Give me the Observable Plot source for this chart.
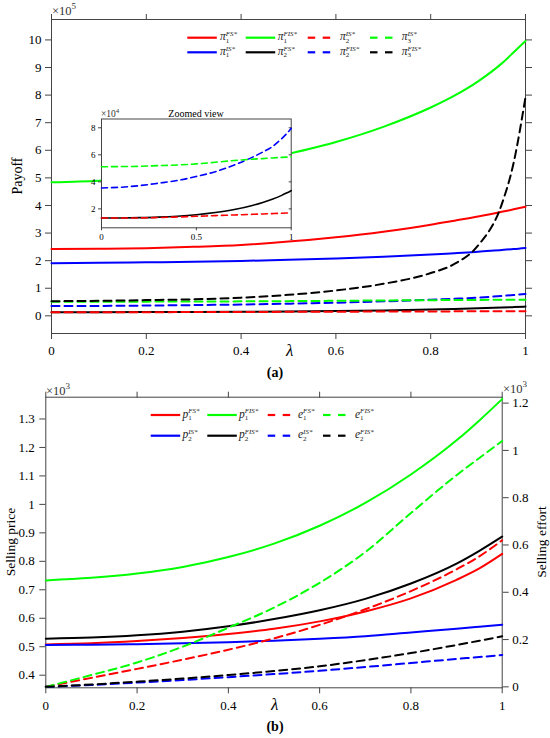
<!DOCTYPE html>
<html><head><meta charset="utf-8">
<script src="https://cdn.jsdelivr.net/npm/d3@7"></script>
<script src="https://cdn.jsdelivr.net/npm/@observablehq/plot@0.6"></script>
<style>
body{margin:0;background:#fff}
#wrap{position:relative;width:550px;height:738px;overflow:hidden;background:#fff}
#wrap svg{position:absolute;overflow:visible}
#wrap svg, #wrap svg text, #wrap svg g{font-family:"Liberation Serif","Times New Roman",Times,serif !important}
</style></head><body><div id="wrap"></div>
<script>
// ---------- data: panel (a) payoff ----------
const lamA = [0,0.1,0.2,0.3,0.4,0.5,0.6,0.7,0.8,0.85,0.9,0.95,0.975,1];
const pi1FS  = [242000,243000,245000,250000,257000,269000,285000,305000,330000,345000,360000,377000,386000,395000];
const pi1IS  = [191000,192000,194000,196000,199000,203000,208000,214000,222000,227000,232000,239000,242000,246000];
const pi1FIS = [484000,490000,502000,520000,550000,587000,630000,685000,755000,798000,850000,915000,955000,996000];
const pi2FS  = [13200,13300,13500,13900,14600,15700,17300,19500,22700,24800,27200,30000,31700,33500];
const pi2IS  = [13200,13200,13300,13600,14000,14500,15000,15500,16000,16200,16500,16800,16900,17000];
const pi2FIS = [35500,36000,37200,39000,41000,44000,47500,52500,58500,62000,66000,72000,75500,79500];
const pi3IS  = [51200,51300,51500,52000,52500,53300,54500,55800,56800,57200,57700,58100,58300,58500];
const pi3FIS = [53000,54500,57000,60000,66000,76000,92000,116000,155000,188000,255000,405000,555000,793000];
const xTicksA = [0,0.2,0.4,0.6,0.8,1];
const yTicksA = [0,100000,200000,300000,400000,500000,600000,700000,800000,900000,1000000];
const xTicksInset = [0,0.5,1];
const yTicksInset = [20000,40000,60000,80000];

// ---------- data: panel (b) price / effort ----------
const lamB = [0,0.1,0.2,0.3,0.4,0.5,0.6,0.7,0.8,0.9,0.95,1];
const p1FS  = [508,512,520,531,545,563,589,624,670,735,775,826];
const p2IS  = [506,507,509,512,516,521,528,537,550,563,570,577];
const p1FIS = [733,742,757,780,815,862,925,1005,1105,1225,1295,1370];
const p2FIS = [528,532,540,553,572,597,628,668,722,792,837,887];
const e1FS  = [0,38,76,115,157,205,262,328,405,497,552,620];
const e2IS  = [0,8,18,29,41,54,68,84,101,118,126,135];
const e1FIS = [0,50,103,170,250,335,440,570,735,895,968,1040];
const e2FIS = [0,10,22,35,50,67,87,113,143,177,195,214];
const xTicksB = [0,0.2,0.4,0.6,0.8,1];
const yTicksPrice = [400,500,600,700,800,900,1000,1100,1200,1300];
const yTicksEffort = [0,200,400,600,800,1000,1200];

const FONT = '"Liberation Serif","Times New Roman",Times,serif';
const AX = "#444";
const RED="#ff0000", GREEN="#00ff00", BLUE="#0000ff", BLACK="#000000";
const DASH = "8,5";

const rows = (lam, vals) => lam.map((l,i)=>({lam:l, v:vals[i]}));
const seriesA = [
  {vals:pi1FS, color:RED, dash:null, inset:false},
  {vals:pi1IS, color:BLUE, dash:null, inset:false},
  {vals:pi1FIS, color:GREEN, dash:null, inset:false},
  {vals:pi2FS, color:BLACK, dash:null, inset:true},
  {vals:pi2IS, color:RED, dash:DASH, inset:true},
  {vals:pi2FIS, color:BLUE, dash:DASH, inset:true},
  {vals:pi3IS, color:GREEN, dash:DASH, inset:true},
  {vals:pi3FIS, color:BLACK, dash:DASH, inset:false}
];
const fmt = d => String(+d.toFixed(2));

const wrap = document.getElementById("wrap");
function place(svg, left, top){ svg.style.left=left+"px"; svg.style.top=top+"px"; wrap.appendChild(svg); return svg; }

// ---------- panel (a) ----------
const plotA = Plot.plot({
  width:550, height:380,
  marginLeft:51, marginRight:25, marginTop:19, marginBottom:47,
  style:{background:"transparent", fontFamily:FONT, fontSize:"13px", color:"#000"},
  x:{domain:[0,1]},
  y:{domain:[-64000,1074000]},
  marks:[
    Plot.frame({stroke:AX}),
    Plot.axisX({ticks:xTicksA, tickFormat:d=>fmt(d), tickSize:6, tickPadding:6, stroke:AX, fill:"#000", label:null}),
    Plot.axisX({anchor:"top", ticks:xTicksA, tickFormat:()=>"", tickSize:6, stroke:AX, label:null}),
    Plot.axisY({ticks:yTicksA, tickFormat:d=>fmt(d/1e5), tickSize:6, tickPadding:4, stroke:AX, fill:"#000", label:null}),
    Plot.axisY({anchor:"right", ticks:yTicksA, tickFormat:()=>"", tickSize:6, stroke:AX, label:null}),
    ...seriesA.map(s=>Plot.line(rows(lamA,s.vals), {x:"lam", y:"v", stroke:s.color, strokeWidth:2, strokeDasharray:s.dash, curve:"monotone-x"}))
  ]
});
place(plotA, 0, 0);

// ---------- inset ----------
const plotI = Plot.plot({
  width:220, height:150,
  marginLeft:21, marginRight:9.3, marginTop:18.5, marginBottom:22.7,
  style:{background:"transparent", fontFamily:FONT, fontSize:"9px", color:"#000"},
  x:{domain:[0,1]},
  y:{domain:[6000,86500]},
  marks:[
    Plot.frame({fill:"white", stroke:AX}),
    Plot.axisX({ticks:xTicksInset, tickFormat:d=>fmt(d), tickSize:3, tickPadding:3, stroke:AX, fill:"#000", label:null}),
    Plot.axisY({ticks:yTicksInset, tickFormat:d=>fmt(d/1e4), tickSize:3, tickPadding:3, stroke:AX, fill:"#000", label:null}),
    Plot.axisY({anchor:"right", ticks:yTicksInset, tickFormat:()=>"", tickSize:-3, stroke:AX, label:null}),
    ...seriesA.filter(s=>s.inset).map(s=>Plot.line(rows(lamA,s.vals), {x:"lam", y:"v", stroke:s.color, strokeWidth:1.6, strokeDasharray:s.dash?"6,4":null, curve:"monotone-x"}))
  ]
});
place(plotI, 80, 100);

// ---------- panel (b) ----------
const L0=355.7, L1=1376.5, R0=-4, R1=1225;
const toL = e => L0 + (e-R0)*(L1-L0)/(R1-R0);
const fromL = v => R0 + (v-L0)*(R1-R0)/(L1-L0);
const seriesB = [
  {vals:p1FS, color:RED, dash:null, eff:false},
  {vals:p2IS, color:BLUE, dash:null, eff:false},
  {vals:p1FIS, color:GREEN, dash:null, eff:false},
  {vals:p2FIS, color:BLACK, dash:null, eff:false},
  {vals:e1FS, color:RED, dash:DASH, eff:true},
  {vals:e2IS, color:BLUE, dash:DASH, eff:true},
  {vals:e1FIS, color:GREEN, dash:DASH, eff:true},
  {vals:e2FIS, color:BLACK, dash:DASH, eff:true}
];
const plotB = Plot.plot({
  width:550, height:358,
  marginLeft:45.3, marginRight:48.3, marginTop:16.7, marginBottom:50.7,
  style:{background:"transparent", fontFamily:FONT, fontSize:"13px", color:"#000"},
  x:{domain:[0,1]},
  y:{domain:[L0,L1]},
  marks:[
    Plot.frame({stroke:AX}),
    Plot.axisX({ticks:xTicksB, tickFormat:d=>fmt(d), tickSize:6, tickPadding:7, stroke:AX, fill:"#000", label:null}),
    Plot.axisX({anchor:"top", ticks:xTicksB, tickFormat:()=>"", tickSize:6, stroke:AX, label:null}),
    Plot.axisY({ticks:yTicksPrice, tickFormat:d=>fmt(d/1e3), tickSize:6, tickPadding:5, stroke:AX, fill:"#000", label:null}),
    Plot.axisY({anchor:"right", ticks:yTicksEffort.map(toL), tickFormat:d=>fmt(Math.round(fromL(d))/1e3), tickSize:6, tickPadding:4, stroke:AX, fill:"#000", label:null}),
    ...seriesB.map(s=>Plot.line(rows(lamB, s.eff ? s.vals.map(toL) : s.vals), {x:"lam", y:"v", stroke:s.color, strokeWidth:2, strokeDasharray:s.dash, curve:"monotone-x"}))
  ]
});
place(plotB, 0, 380);

// ---------- overlay texts & legends ----------
const ov = d3.create("svg").attr("width",550).attr("height",738).attr("viewBox","0 0 550 738")
  .attr("font-family",FONT).style("pointer-events","none");
function txt(x,y,s,size,opts={}){
  const t = ov.append("text").attr("x",x).attr("y",y).attr("font-size",size).attr("font-family",FONT)
    .attr("font-weight","normal").attr("fill",opts.fill||"#000").text(s);
  if(opts.anchor) t.attr("text-anchor",opts.anchor);
  if(opts.italic) t.attr("font-style","italic");
  if(opts.bold) t.attr("font-weight","bold");
  if(opts.rot) t.attr("transform",`rotate(-90 ${x} ${y})`);
  return t;
}
function times10(x,y,exp,size){
  const t = txt(x,y,"×10",size,{fill:"#333"});
  t.append("tspan").attr("dy",-size*0.45).attr("font-size",size*0.72).text(exp);
}
// panel a
times10(52,15,"5",12.5);
txt(286,356,"λ",17,{italic:true});
txt(275,377,"(a)",14,{anchor:"middle",bold:true});
txt(22,176,"Payoff",14,{anchor:"middle",rot:true});
// inset
times10(101,117,"4",9.5);
txt(196,117,"Zoomed view",10,{anchor:"middle"});
// panel b
times10(46,395,"3",12.5);
times10(503,393,"3",12.5);
txt(271,710,"λ",17,{italic:true});
txt(275,731,"(b)",14,{anchor:"middle",bold:true});
txt(15,542,"Selling price",13.5,{anchor:"middle",rot:true});
txt(546,542,"Selling effort",13.5,{anchor:"middle",rot:true});

function legendItem(x, y, color, dashed, base, sub, sup, labelX){
  if(dashed){
    ov.append("line").attr("x1",x).attr("x2",x+7.5).attr("y1",y).attr("y2",y).attr("stroke",color).attr("stroke-width",2.2);
    ov.append("line").attr("x1",x+15).attr("x2",x+22.5).attr("y1",y).attr("y2",y).attr("stroke",color).attr("stroke-width",2.2);
  } else {
    ov.append("line").attr("x1",x).attr("x2",x+29.5).attr("y1",y).attr("y2",y).attr("stroke",color).attr("stroke-width",2.2);
  }
  const t = txt(labelX, y+2.6, base, 11.5, {italic:true, fill:"#222"});
  t.append("tspan").attr("font-size",7).attr("font-style","normal").attr("dy",2.3).text(sub);
  t.append("tspan").attr("font-size",7).attr("font-style","italic").attr("dx",-3.5).attr("dy",-6.6).text(sup);
}
// top legend
const legA = [
  [187.3,37.7,RED,false,"π","1","FS*",220],
  [245.7,37.7,GREEN,false,"π","1","FIS*",277.7],
  [307.7,37.7,RED,true,"π","2","IS*",340],
  [370,37.7,GREEN,true,"π","3","IS*",401.7],
  [187.3,52.3,BLUE,false,"π","1","IS*",220],
  [245.7,52.3,BLACK,false,"π","2","FS*",277.7],
  [307.7,52.3,BLUE,true,"π","2","FIS*",340],
  [370,52.3,BLACK,true,"π","3","FIS*",401.7]
];
legA.forEach(a=>legendItem(...a));
const legB = [
  [150.7,415,RED,false,"p","1","FS*",182.5],
  [207.3,415,GREEN,false,"p","1","FIS*",239],
  [267.7,415,RED,true,"e","1","FS*",298],
  [323,415,GREEN,true,"e","1","FIS*",355],
  [150.7,435.7,BLUE,false,"p","2","IS*",182.5],
  [207.3,435.7,BLACK,false,"p","2","FIS*",239],
  [267.7,435.7,BLUE,true,"e","2","IS*",298],
  [323,435.7,BLACK,true,"e","2","FIS*",355]
];
legB.forEach(a=>legendItem(...a));
const ovNode = ov.node();
ovNode.style.left="0px"; ovNode.style.top="0px";
wrap.appendChild(ovNode);
// force serif on all texts drawn by Plot
d3.select(wrap).selectAll("svg text").attr("font-family",FONT).style("font-family",FONT);
</script></body></html>
